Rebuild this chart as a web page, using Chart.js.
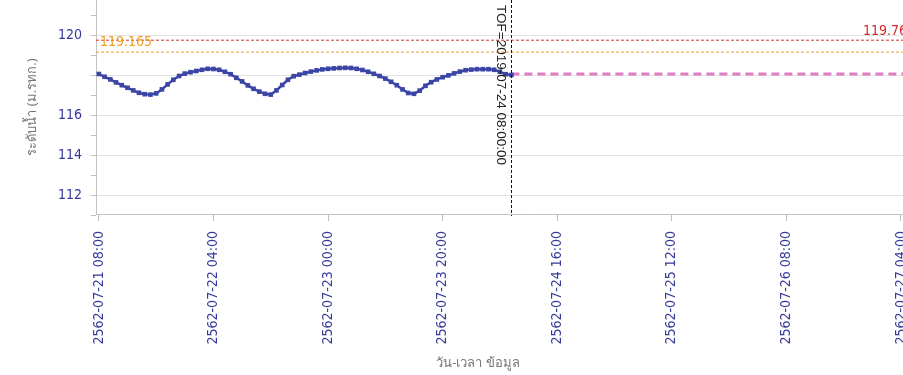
<!DOCTYPE html>
<html>
<head>
<meta charset="utf-8">
<script src="https://cdn.jsdelivr.net/npm/chart.js@4.4.0/dist/chart.umd.min.js"></script>
<style>
  html, body { margin: 0; padding: 0; background: #fff; overflow: hidden; }
  #wrap { position: relative; width: 960px; height: 375px; }
</style>
</head>
<body>
<div id="wrap"><canvas id="chart"></canvas></div>
<script>
// x values are hours after 2562-07-21 08:00
const xTickHours = [0, 20, 40, 60, 80, 100, 120, 140];
const xTickLabels = ['2562-07-21 08:00', '2562-07-22 04:00', '2562-07-23 00:00', '2562-07-23 20:00',
  '2562-07-24 16:00', '2562-07-25 12:00', '2562-07-26 08:00', '2562-07-27 04:00'];
const yTicks = [111, 112, 113, 114, 115, 116, 117, 118, 119, 120, 121];
const yLabelled = [112, 114, 116, 120];

// hourly observed water level (m. MSL), 0h .. 72h
const obsLevel = [
  118.07, 117.93, 117.80, 117.65, 117.51, 117.38, 117.25, 117.13, 117.06, 117.04,
  117.10, 117.30, 117.55, 117.78, 117.97, 118.09, 118.16, 118.22, 118.28, 118.33,
  118.32, 118.28, 118.18, 118.06, 117.88, 117.70, 117.50, 117.33, 117.19, 117.08,
  117.04, 117.25, 117.52, 117.78, 117.96, 118.04, 118.12, 118.19, 118.25, 118.30,
  118.33, 118.35, 118.37, 118.38, 118.37, 118.33, 118.27, 118.18, 118.08, 117.97,
  117.84, 117.68, 117.51, 117.30, 117.12, 117.08, 117.24, 117.48, 117.66, 117.80,
  117.91, 118.00, 118.10, 118.19, 118.26, 118.29, 118.31, 118.31, 118.31, 118.28,
  118.18, 118.06, 118.02
];
const forecastHours = [72, 150.3];
const forecastLevel = [118.07, 118.07];
const tofHour = 72;
const tofLabel = 'TOF=2019-07-24 08:00:00';
const bankLevel = 119.76;     // red
const criticalLevel = 119.165; // orange
const xRange = [-0.5, 150.3];
const yRange = [111.07, 121.77];

const navy = '#35399a';
const tickFont = { family: 'DejaVu Sans Condensed', size: 14 };

const overlay = {
  id: 'overlay',
  afterDatasetsDraw(chart) {
    const { ctx, chartArea: a, scales: { x, y } } = chart;
    ctx.save();
    // time of forecast marker
    const tx = Math.round(x.getPixelForValue(tofHour)) + 0.5;
    ctx.strokeStyle = '#111';
    ctx.lineWidth = 1;
    ctx.setLineDash([3, 2]);
    ctx.beginPath();
    ctx.moveTo(tx, a.top);
    ctx.lineTo(tx, a.bottom + 2);
    ctx.stroke();
    ctx.setLineDash([]);

    ctx.save();
    ctx.translate(tx - 11, a.top + 5);
    ctx.rotate(Math.PI / 2);
    ctx.fillStyle = '#222';
    ctx.font = '13.5px "Liberation Sans"';
    ctx.textAlign = 'left';
    ctx.textBaseline = 'middle';
    ctx.fillText(tofLabel, 0, 0);
    ctx.restore();

    // threshold labels
    ctx.font = '14px "DejaVu Sans Condensed"';
    ctx.textBaseline = 'alphabetic';
    ctx.textAlign = 'left';
    ctx.fillStyle = '#f0a028';
    ctx.fillText(String(criticalLevel), a.left + 4, y.getPixelForValue(criticalLevel) - 6);
    ctx.fillStyle = '#d42a2a';
    ctx.fillText(String(bankLevel), 863, y.getPixelForValue(bankLevel) - 5);

    // axis titles
    ctx.fillStyle = '#777';
    ctx.font = '13px "Noto Sans", "DejaVu Sans", sans-serif';
    ctx.textAlign = 'center';
    ctx.textBaseline = 'middle';
    ctx.fillText('วัน-เวลา ข้อมูล', 478, 363);
    ctx.save();
    ctx.translate(32, (a.top + a.bottom) / 2);
    ctx.rotate(-Math.PI / 2);
    ctx.fillText('ระดับน้ำ (ม.รทก.)', 0, 0);
    ctx.restore();
    ctx.restore();
  }
};

new Chart(document.getElementById('chart'), {
  type: 'line',
  data: {
    datasets: [
      {
        label: 'ระดับน้ำ',
        data: obsLevel.map((v, i) => ({ x: i, y: v })),
        borderColor: '#3b45a6',
        backgroundColor: '#3b45a6',
        borderWidth: 2.5,
        pointStyle: 'rect',
        pointRadius: 1.5,
        tension: 0,
      },
      {
        label: 'คาดการณ์',
        data: forecastHours.map((h, i) => ({ x: h, y: forecastLevel[i] })),
        borderColor: '#e07cc4',
        borderWidth: 3,
        borderDash: [8, 5],
        pointRadius: 0,
      },
      {
        label: 'ตลิ่ง',
        data: xRange.map(h => ({ x: h, y: bankLevel })),
        borderColor: '#d23030',
        borderWidth: 1,
        borderDash: [3, 2],
        pointRadius: 0,
      },
      {
        label: 'วิกฤต',
        data: xRange.map(h => ({ x: h, y: criticalLevel })),
        borderColor: '#eba22a',
        borderWidth: 1,
        borderDash: [3, 2],
        pointRadius: 0,
      },
    ],
  },
  options: {
    responsive: true,
    maintainAspectRatio: false,
    animation: false,
    devicePixelRatio: 1,
    layout: { autoPadding: false, padding: { top: 0, left: 0, right: 0, bottom: 0 } },
    plugins: { legend: { display: false }, tooltip: { enabled: false } },
    scales: {
      x: {
        type: 'linear',
        min: xRange[0],
        max: xRange[1],
        afterBuildTicks: axis => { axis.ticks = xTickHours.map(v => ({ value: v })); },
        afterFit: axis => { axis.height = 161; },
        border: { color: '#c4c4c4' },
        grid: { drawOnChartArea: false, tickLength: 7, tickColor: '#bdbdbd' },
        ticks: {
          autoSkip: false, maxRotation: 90, minRotation: 90, padding: 10,
          color: navy, font: tickFont,
          callback: (v) => xTickLabels[xTickHours.indexOf(v)] || '',
        },
      },
      y: {
        min: yRange[0],
        max: yRange[1],
        afterBuildTicks: axis => { axis.ticks = yTicks.map(v => ({ value: v })); },
        afterFit: axis => { axis.width = 96; axis.paddingTop = 0; axis.paddingBottom = 0; },
        border: { color: '#c4c4c4' },
        grid: {
          color: c => (c.tick && c.tick.value % 2 === 0 ? '#e2e2e2' : 'rgba(0,0,0,0)'),
          tickColor: '#bdbdbd',
          tickLength: 5,
        },
        ticks: {
          autoSkip: false,
          color: navy, font: tickFont, padding: 9,
          callback: v => (yLabelled.includes(v) ? String(v) : ''),
        },
      },
    },
  },
  plugins: [overlay],
});
</script>
</body>
</html>
